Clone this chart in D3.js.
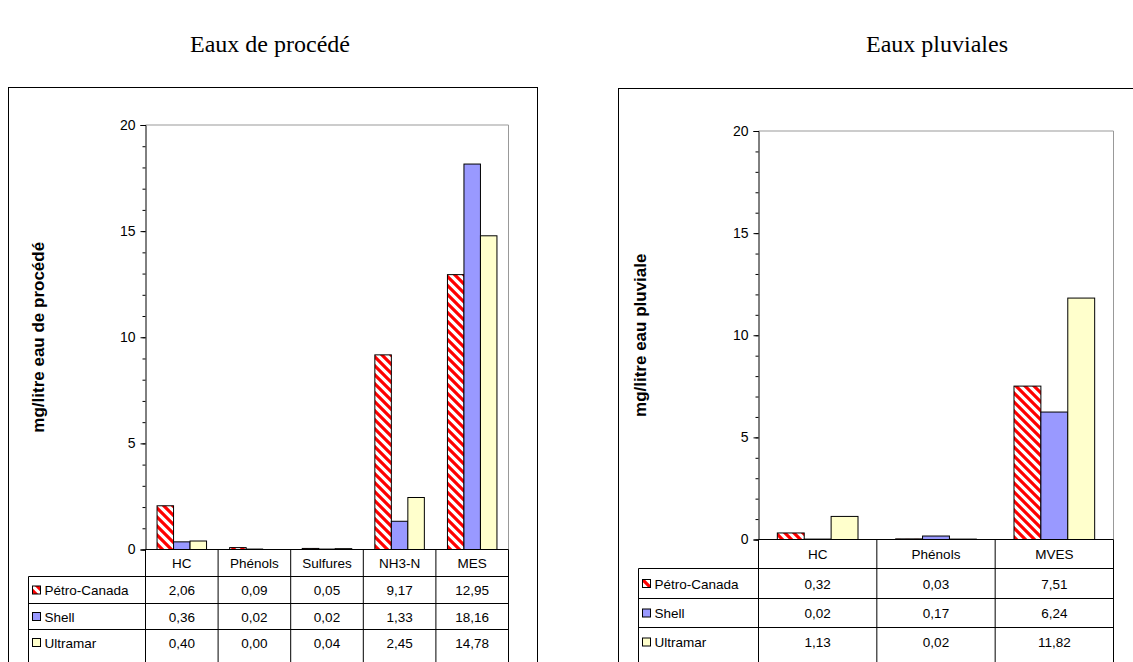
<!DOCTYPE html>
<html><head><meta charset="utf-8">
<script src="https://cdn.jsdelivr.net/npm/d3@7"></script>
<style>body{margin:0;background:#fff}</style></head>
<body><svg id="c" width="1133" height="662"></svg>
<script>
const series = ["Pétro-Canada","Shell","Ultramar"];
const catsProc = ["HC","Phénols","Sulfures","NH3-N","MES"];
const procPetro = [2.06,0.09,0.05,9.17,12.95];
const procShell = [0.36,0.02,0.02,1.33,18.16];
const procUltra = [0.40,0.00,0.04,2.45,14.78];
const catsPluv = ["HC","Phénols","MVES"];
const pluvPetro = [0.32,0.03,7.51];
const pluvShell = [0.02,0.17,6.24];
const pluvUltra = [1.13,0.02,11.82];
const yTicks = [0,5,10,15,20];

const svg = d3.select("#c");
const defs = svg.append("defs");
const pat = defs.append("pattern").attr("id","hatch").attr("patternUnits","userSpaceOnUse")
  .attr("width",9).attr("height",9);
pat.append("rect").attr("width",9).attr("height",9).attr("fill","#fff");
pat.append("path").attr("d","M-3,-3 L12,12 M-3,6 L3,12 M6,-3 L12,3").attr("stroke","#ff0000").attr("stroke-width",3.2);
const fills = ["url(#hatch)","#9999ff","#ffffcc"];
const F = "Liberation Sans, Arial, sans-serif";

function panel(o){
  const g = svg.append("g");
  g.append("text").attr("x",o.titleX).attr("y",52).attr("text-anchor","middle")
    .attr("font-family","Liberation Serif, Times New Roman, serif").attr("font-size",24).text(o.title);
  g.append("rect").attr("x",o.bx).attr("y",o.by).attr("width",o.bw).attr("height",700)
    .attr("fill","none").attr("stroke","#000").attr("stroke-width",1);
  const x = d3.scaleBand().domain(o.cats).range([o.x0,o.x1]);
  const y = d3.scaleLinear().domain([0,20]).range([o.y0,o.yTop]);
  g.append("path").attr("d",`M${o.x0},${o.yTop}H${o.x1}V${o.y0}`).attr("fill","none").attr("stroke","#999");
  const xs = d3.scaleBand().domain(series).range([0,x.bandwidth()]).paddingOuter(0.7).paddingInner(0);
  o.vals.forEach((vals,si)=>{
    g.selectAll(null).data(vals).enter().append("rect")
      .attr("x",(d,i)=>x(o.cats[i])+xs(series[si]))
      .attr("width",xs.bandwidth())
      .attr("y",d=>y(d)).attr("height",d=>o.y0-y(d))
      .attr("fill",fills[si]).attr("stroke","#000").attr("stroke-width",1)
      .attr("display",d=>d>0?null:"none");
  });
  const ax = g.append("g").attr("transform",`translate(${o.x0},0)`)
    .call(d3.axisLeft(y).tickValues(yTicks).tickSize(5).tickPadding(5));
  ax.select(".domain").attr("stroke","#000");
  ax.selectAll("text").attr("font-family",F).attr("font-size",14).attr("fill","#000");
  g.append("g").attr("transform",`translate(${o.x0},0)`)
    .call(d3.axisLeft(y).tickValues(d3.range(0,21,1)).tickSize(3).tickFormat(""))
    .select(".domain").remove();
  g.append("text").attr("transform",`translate(${o.ytX},${(o.yTop+o.y0)/2}) rotate(-90)`)
    .attr("text-anchor","middle").attr("font-family",F).attr("font-weight","bold")
    .attr("font-size",17).text(o.ytitle);
  const rows = o.rowsY;
  const tg = g.append("g").attr("font-family",F).attr("font-size",13.5);
  const line = (x1,y1,x2,y2)=>tg.append("line").attr("x1",x1).attr("y1",y1).attr("x2",x2).attr("y2",y2).attr("stroke","#000");
  line(o.x0,o.y0,o.x1,o.y0);
  rows.forEach(yy=>line(o.lx,yy,o.x1,yy));
  line(o.lx,rows[0],o.lx,700);
  o.cats.forEach(c=>line(x(c),o.y0,x(c),700));
  line(o.x1,o.y0,o.x1,700);
  o.cats.forEach(c=>tg.append("text").attr("x",x(c)+x.bandwidth()/2).attr("y",(o.y0+rows[0])/2+5).attr("text-anchor","middle").text(c));
  series.forEach((s,si)=>{
    const top = rows[si], bot = si<2?rows[si+1]:rows[2]+(rows[2]-rows[1]);
    const cy=(top+bot)/2;
    tg.append("rect").attr("x",o.lx+4).attr("y",cy-4).attr("width",8).attr("height",8).attr("fill",fills[si]).attr("stroke","#000");
    tg.append("text").attr("x",o.lx+16).attr("y",cy+5).text(s);
    o.vals[si].forEach((v,i)=>tg.append("text").attr("x",x(o.cats[i])+x.bandwidth()/2).attr("y",cy+5)
      .attr("text-anchor","middle").text(d3.format(".2f")(v).replace(".",",")));
  });
}
panel({title:"Eaux de procédé",titleX:270,bx:8.5,by:87.5,bw:529,cats:catsProc,vals:[procPetro,procShell,procUltra],
  x0:145.5,x1:508.5,yTop:125,y0:549.5,ytX:44,ytitle:"mg/litre eau de procédé",lx:28.5,rowsY:[576.5,603.5,629.5]});
panel({title:"Eaux pluviales",titleX:937,bx:618.5,by:88.5,bw:600,cats:catsPluv,vals:[pluvPetro,pluvShell,pluvUltra],
  x0:758.5,x1:1113.5,yTop:131,y0:539.5,ytX:646,ytitle:"mg/litre eau pluviale",lx:638.5,rowsY:[568.5,598.5,627.5]});
</script></body></html>
